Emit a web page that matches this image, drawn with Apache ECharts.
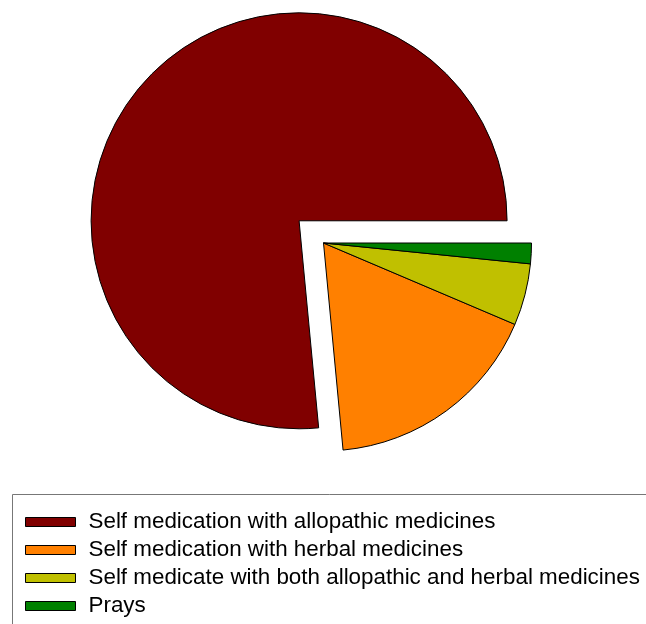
<!DOCTYPE html>
<html>
<head>
<meta charset="utf-8">
<script src="https://cdn.jsdelivr.net/npm/echarts@6/dist/echarts.min.js"></script>
<style>
  html, body { margin: 0; padding: 0; background: #fff; }
  #chart { width: 646px; height: 624px; }
</style>
</head>
<body>
<div id="chart"></div>
<script>
// Share of respondents by first response to illness (%)
const categories = [
  'Self medication with allopathic medicines',
  'Self medication with herbal medicines',
  'Self medicate with both allopathic and herbal medicines',
  'Prays'
];
const shares = [76.5, 17.1, 4.8, 1.6];
const colors = ['#800000', '#FF8000', '#C0C000', '#008000'];
const explodedIndex = 0;

const chart = echarts.init(document.getElementById('chart'), null, { renderer: 'canvas' });

chart.setOption({
  animation: false,
  backgroundColor: '#ffffff',
  color: colors,
  graphic: [{
    type: 'rect',
    silent: true,
    z: -1,
    shape: { x: 12.5, y: 494.5, width: 700, height: 200 },
    style: { fill: '#ffffff', stroke: '#777777', lineWidth: 1 }
  }],
  legend: {
    orient: 'vertical',
    left: 25,
    top: 511,
    padding: 0,
    itemGap: 6,
    itemWidth: 50,
    itemHeight: 9,
    icon: 'rect',
    selectedMode: false,
    itemStyle: { borderColor: '#000000', borderWidth: 1 },
    textStyle: {
      fontFamily: 'Liberation Sans, Arial, sans-serif',
      fontSize: 22.4,
      lineHeight: 22,
      color: '#000000',
      padding: [0, 0, 0, 8]
    },
    data: categories
  },
  series: [{
    type: 'pie',
    center: [323.5, 243],
    radius: 208,
    startAngle: 0,
    clockwise: false,
    selectedMode: 'single',
    selectedOffset: 33,
    avoidLabelOverlap: false,
    label: { show: false },
    labelLine: { show: false },
    emphasis: { disabled: true, scale: false },
    itemStyle: { borderColor: '#000000', borderWidth: 1 },
    data: categories.map((name, i) => ({
      name: name,
      value: shares[i],
      selected: i === explodedIndex
    }))
  }]
});
</script>
</body>
</html>
